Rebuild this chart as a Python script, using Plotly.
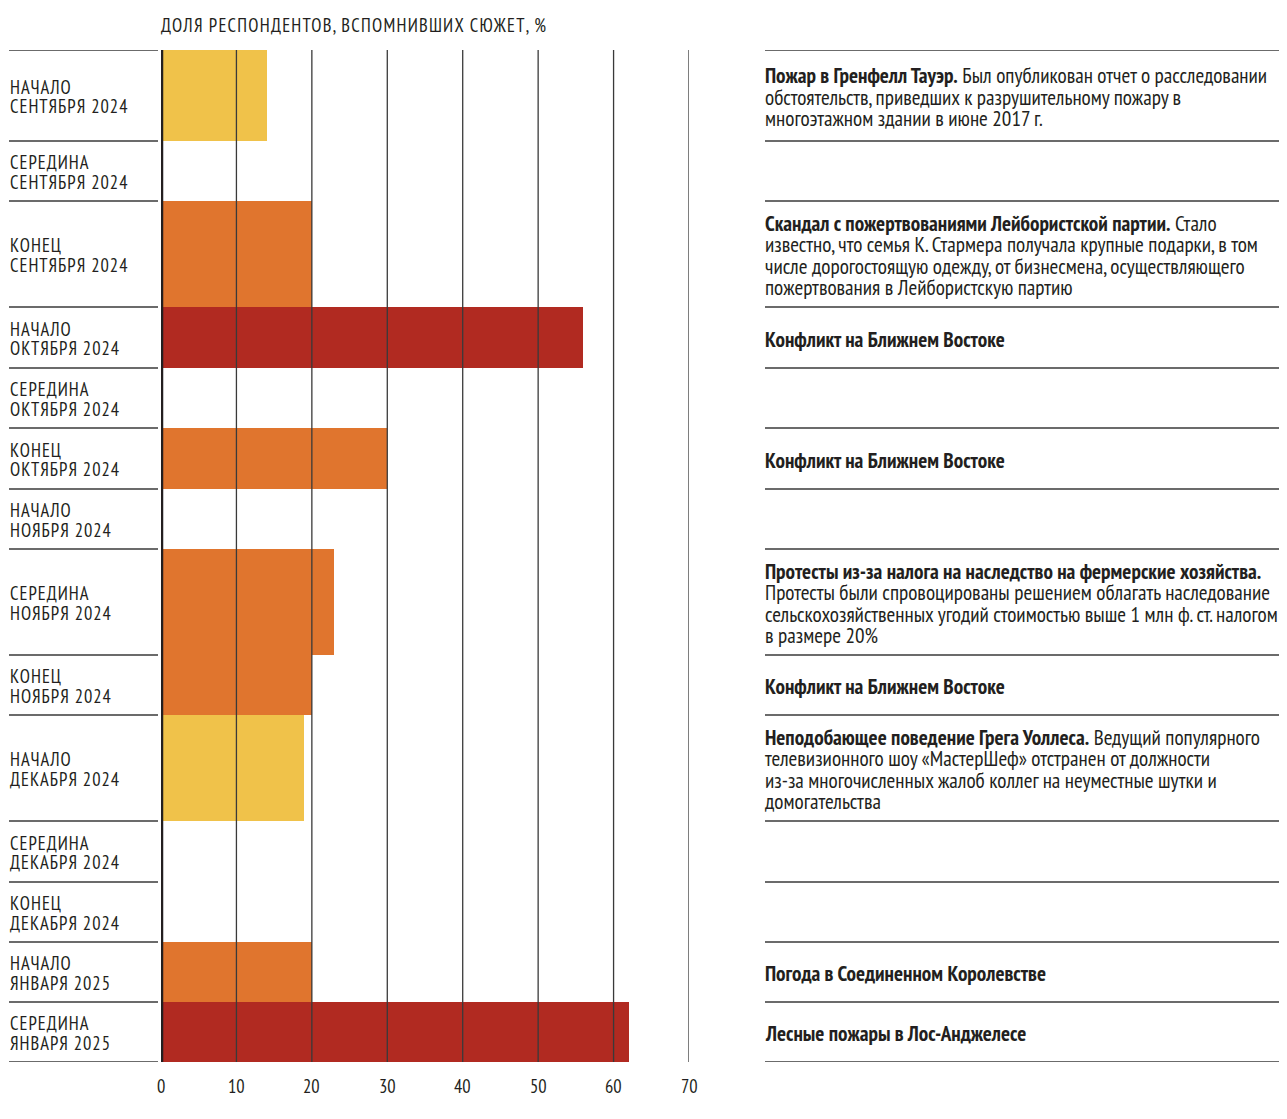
import plotly.graph_objects as go

# ---------------- data ----------------
periods = [
    "НАЧАЛО\nСЕНТЯБРЯ 2024", "СЕРЕДИНА\nСЕНТЯБРЯ 2024", "КОНЕЦ\nСЕНТЯБРЯ 2024",
    "НАЧАЛО\nОКТЯБРЯ 2024", "СЕРЕДИНА\nОКТЯБРЯ 2024", "КОНЕЦ\nОКТЯБРЯ 2024",
    "НАЧАЛО\nНОЯБРЯ 2024", "СЕРЕДИНА\nНОЯБРЯ 2024", "КОНЕЦ\nНОЯБРЯ 2024",
    "НАЧАЛО\nДЕКАБРЯ 2024", "СЕРЕДИНА\nДЕКАБРЯ 2024", "КОНЕЦ\nДЕКАБРЯ 2024",
    "НАЧАЛО\nЯНВАРЯ 2025", "СЕРЕДИНА\nЯНВАРЯ 2025",
]
share_recalled = [14, None, 20, 56, None, 30, None, 23, 20, 19, None, None, 20, 62]
story_titles = [
    "Пожар в Гренфелл Тауэр.", "", "Скандал с пожертвованиями Лейбористской партии.",
    "Конфликт на Ближнем Востоке", "", "Конфликт на Ближнем Востоке", "",
    "Протесты из-за налога на наследство на фермерские хозяйства.",
    "Конфликт на Ближнем Востоке",
    "Неподобающее поведение Грега Уоллеса.", "", "",
    "Погода в Соединенном Королевстве", "Лесные пожары в Лос-Анджелесе",
]
story_texts = [
    "Был опубликован отчет о расследовании\nобстоятельств, приведших к разрушительному пожару в\nмногоэтажном здании в июне 2017 г.",
    "",
    "Стало\nизвестно, что семья К. Стармера получала крупные подарки, в том\nчисле дорогостоящую одежду, от бизнесмена, осуществляющего\nпожертвования в Лейбористскую партию",
    "", "", "", "",
    "\nПротесты были спровоцированы решением облагать наследование\nсельскохозяйственных угодий стоимостью выше 1 млн ф. ст. налогом\nв размере 20%",
    "",
    "Ведущий популярного\nтелевизионного шоу «МастерШеф» отстранен от должности\nиз-за многочисленных жалоб коллег на неуместные шутки и\nдомогательства",
    "", "", "", "",
]
x_ticks = [0, 10, 20, 30, 40, 50, 60, 70]
axis_title = "ДОЛЯ РЕСПОНДЕНТОВ, ВСПОМНИВШИХ СЮЖЕТ, %"

# ---------------- layout helpers ----------------
OFF = 8  # page body margin
row_heights = [91, 60, 106, 61, 60, 61, 60, 106, 60, 106, 61, 60, 60, 60]
W, H = 1287 - OFF, 1119 - OFF
L, R, T, B = 161 - OFF, 689 - OFF, 50 - OFF, 1062 - OFF
PW = R - L

bounds = [0]
for h in row_heights:
    bounds.append(bounds[-1] + h)
centers = [(bounds[i] + bounds[i + 1]) / 2 for i in range(len(row_heights))]
total = bounds[-1]

YELLOW, ORANGE, RED = "#F0C24A", "#E0752E", "#B12A21"


def colour(v):
    if v is None:
        return ORANGE
    if v < 20:
        return YELLOW
    if v < 50:
        return ORANGE
    return RED


def px_x(p):
    return (p - OFF - L) / PW


def px_y(p):
    return 1 - (p - OFF - T) / (B - T)


FONT = "PT Sans Narrow, Roboto Condensed, sans-serif"
INK = "#231f20"
LINE_COL = "#3a3a3a"

fig = go.Figure()
fig.add_trace(go.Bar(
    x=share_recalled, y=centers, width=row_heights, orientation="h",
    marker=dict(color=[colour(v) for v in share_recalled], line=dict(width=0)),
    hoverinfo="x", showlegend=False,
))

shapes = []
for t in x_ticks[1:]:
    shapes.append(dict(type="line", xref="x", yref="y", x0=t, x1=t, y0=0, y1=total,
                       line=dict(color=LINE_COL, width=1.3), layer="above"))
shapes.append(dict(type="line", xref="x", yref="y", x0=0, x1=0, y0=0, y1=total,
                   line=dict(color=INK, width=4.5), layer="above"))
for b in bounds:
    shapes.append(dict(type="line", xref="paper", yref="y", x0=px_x(9), x1=px_x(158),
                       y0=b, y1=b, line=dict(color=LINE_COL, width=1.6)))
    shapes.append(dict(type="line", xref="paper", yref="y", x0=px_x(765), x1=px_x(1300),
                       y0=b, y1=b, line=dict(color=LINE_COL, width=1.6)))

annotations = []
LEFT_LS, RIGHT_LS = 19.3, 21.3
for lab, c in zip(periods, centers):
    lines = lab.split("\n")
    n = len(lines)
    for i, ln in enumerate(lines):
        annotations.append(dict(
            text='<span style="letter-spacing:1px">' + ln + "</span>",
            xref="paper", yref="y", x=px_x(8), y=c + 1 + (i - (n - 1) / 2) * LEFT_LS,
            xanchor="left", yanchor="middle", align="left", showarrow=False,
            font=dict(family=FONT, size=18.5, color=INK)))

for ttl, txt, c in zip(story_titles, story_texts, centers):
    if not ttl:
        continue
    if txt.startswith("\n") or not txt:
        full = "<b>" + ttl + "</b>" + txt
    else:
        full = "<b>" + ttl + "</b> " + txt
    lines = full.split("\n")
    n = len(lines)
    for i, ln in enumerate(lines):
        annotations.append(dict(
            text=ln, xref="paper", yref="y", x=px_x(763),
            y=c + 1 + (i - (n - 1) / 2) * RIGHT_LS,
            xanchor="left", yanchor="middle", align="left", showarrow=False,
            font=dict(family=FONT, size=21.2, color=INK)))

annotations.append(dict(
    text='<span style="letter-spacing:1.25px">' + axis_title + "</span>",
    xref="paper", yref="paper", x=px_x(159), y=px_y(25), xanchor="left", yanchor="middle",
    showarrow=False, font=dict(family=FONT, size=18.5, color=INK)))

for t in x_ticks:
    annotations.append(dict(
        text=str(t), xref="x", yref="paper", x=t, y=px_y(1086),
        xanchor="center", yanchor="middle", showarrow=False,
        font=dict(family=FONT, size=18.5, color=INK)))

fig.update_layout(
    width=W, height=H,
    margin=dict(l=L, r=W - R, t=T, b=H - B, pad=0),
    paper_bgcolor="white", plot_bgcolor="white",
    bargap=0,
    shapes=shapes, annotations=annotations,
    xaxis=dict(range=[0, 70], tickvals=x_ticks, showgrid=False, zeroline=False,
               showline=False, ticks="", showticklabels=False, fixedrange=True),
    yaxis=dict(range=[total, 0], showgrid=False, zeroline=False, showline=False,
               showticklabels=False, ticks="", fixedrange=True),
)

fig.write_html("out.html")
